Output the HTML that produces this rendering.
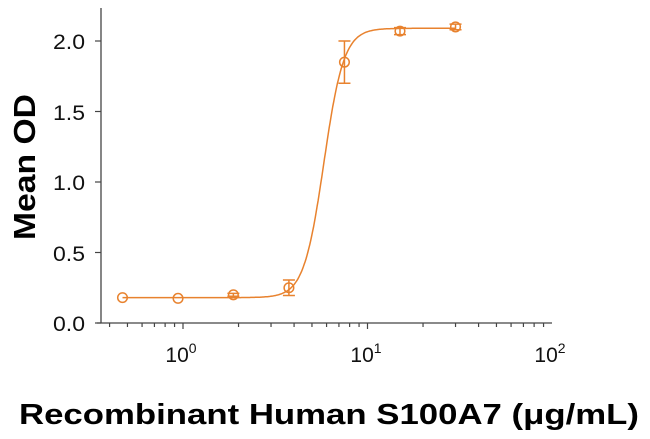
<!DOCTYPE html>
<html><head><style>
body{margin:0;background:#fff;}
svg{display:block;}
.t{font-family:"Liberation Sans Narrow","Liberation Sans",sans-serif;font-size:21px;fill:#111;}
.b{font-family:"Liberation Sans",sans-serif;font-weight:bold;fill:#000;}
</style></head><body>
<svg id="s" width="650" height="439" xmlns="http://www.w3.org/2000/svg">
<g stroke="#444" stroke-width="1.3" fill="none">
<line x1="101" y1="8" x2="101" y2="323"/>
<line x1="97" y1="323" x2="552" y2="323"/>
</g>
<g id="ticks" stroke="#444" stroke-width="1.2"></g>
<g class="t" text-anchor="end">
<text x="85" y="49" textLength="32" lengthAdjust="spacingAndGlyphs">2.0</text>
<text x="85" y="120" textLength="32" lengthAdjust="spacingAndGlyphs">1.5</text>
<text x="85" y="190" textLength="32" lengthAdjust="spacingAndGlyphs">1.0</text>
<text x="85" y="261" textLength="32" lengthAdjust="spacingAndGlyphs">0.5</text>
<text x="85" y="331" textLength="32" lengthAdjust="spacingAndGlyphs">0.0</text>
</g>
<g class="t" text-anchor="middle">
<text x="181" y="362">10<tspan dy="-9" font-size="14">0</tspan></text>
<text x="366" y="362">10<tspan dy="-9" font-size="14">1</tspan></text>
<text x="550" y="362">10<tspan dy="-9" font-size="14">2</tspan></text>
</g>
<text class="b" font-size="31" transform="translate(35,167) rotate(-90)" text-anchor="middle" textLength="146" lengthAdjust="spacingAndGlyphs">Mean OD</text>
<text class="b" font-size="29" x="329" y="424" text-anchor="middle" textLength="620" lengthAdjust="spacingAndGlyphs">Recombinant Human S100A7 (μg/mL)</text>
<g id="data" stroke="#e8822e" stroke-width="1.5" fill="none"></g>
</svg>
<script>
var X=function(v){return 183+184.5*Math.log10(v);},Y=function(v){return 323-141*v;};
var t=document.getElementById('ticks'),h='';
for(var d=-1;d<=1;d++)for(var k=1;k<=9;k++){var v=k*Math.pow(10,d);var x=X(v);if(x<97||x>553)continue;h+='<line x1="'+x+'" y1="323" x2="'+x+'" y2="'+(k==1?329:327)+'"/>';}
for(var i=0;i<=4;i++){var y=Y(i*0.5);h+='<line x1="95" y1="'+y+'" x2="101" y2="'+y+'"/>';}
t.innerHTML=h;
var f=function(x){return 0.18+1.91/(1+Math.pow(5.8/x,8));};
var p='M';for(var lx=Math.log10(0.47);lx<=Math.log10(30);lx+=0.005){var x=Math.pow(10,lx);p+=X(x).toFixed(1)+','+Y(f(x)).toFixed(1)+' ';}
var g='<path d="'+p+'"/>';
var pts=[[0.47,0.18,0],[0.94,0.175,0],[1.875,0.2,0.01],[3.75,0.25,0.055],[7.5,1.85,0.15],[15,2.07,0.025],[30,2.1,0.02]];
pts.forEach(function(q){var x=X(q[0]),y=Y(q[1]);g+='<circle cx="'+x+'" cy="'+y+'" r="4.8"/>';if(q[2]>0){var a=Y(q[1]+q[2]),b=Y(q[1]-q[2]);g+='<path d="M'+x+','+a+'V'+b+'M'+(x-6)+','+a+'h12M'+(x-6)+','+b+'h12"/>';}});
document.getElementById('data').innerHTML=g;
</script>
</body></html>
